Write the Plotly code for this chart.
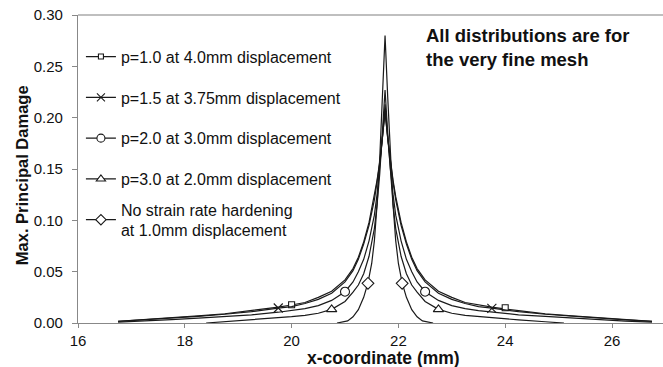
import plotly.graph_objects as go

# ---------------- data ----------------
x_wide = [16.75, 17.25, 17.75, 18.25, 18.75, 19.25, 19.75, 20.0, 20.25, 20.5, 20.75,
          21.0, 21.15, 21.25, 21.35, 21.45, 21.55, 21.6, 21.65, 21.7, 21.75,
          21.8, 21.85, 21.9, 21.95, 22.05, 22.15, 22.25, 22.35, 22.5, 22.75,
          23.0, 23.25, 23.5, 23.75, 24.25, 24.75, 25.25, 25.75, 26.25, 26.75]

p10_y = [0.0017, 0.0033, 0.005, 0.007, 0.009, 0.012, 0.0155, 0.0175, 0.020, 0.025, 0.031,
         0.042, 0.053, 0.064, 0.079, 0.098, 0.123, 0.139, 0.157, 0.180, 0.205,
         0.180, 0.157, 0.139, 0.123, 0.098, 0.079, 0.064, 0.053, 0.042, 0.031,
         0.025, 0.020, 0.0175, 0.0155, 0.012, 0.009, 0.007, 0.005, 0.0033, 0.0017]

p15_y = [0.0015, 0.003, 0.0045, 0.0065, 0.0085, 0.011, 0.0145, 0.016, 0.019, 0.023, 0.029,
         0.040, 0.051, 0.062, 0.077, 0.095, 0.120, 0.137, 0.155, 0.180, 0.207,
         0.180, 0.155, 0.137, 0.120, 0.095, 0.077, 0.062, 0.051, 0.040, 0.029,
         0.023, 0.019, 0.016, 0.0145, 0.011, 0.0085, 0.0065, 0.0045, 0.003, 0.0015]

p20_y = [0.0008, 0.0018, 0.0032, 0.0048, 0.0065, 0.008, 0.0105, 0.012, 0.014, 0.017, 0.022,
         0.0305, 0.040, 0.050, 0.062, 0.080, 0.105, 0.125, 0.150, 0.180, 0.213,
         0.180, 0.150, 0.125, 0.105, 0.080, 0.062, 0.050, 0.040, 0.0305, 0.022,
         0.017, 0.014, 0.012, 0.0105, 0.008, 0.0065, 0.0048, 0.0032, 0.0018, 0.0008]

p30_x = [18.4, 18.75, 19.25, 19.75, 20.0, 20.25, 20.5, 20.75,
         21.0, 21.15, 21.25, 21.35, 21.45, 21.55, 21.6, 21.65, 21.7, 21.75,
         21.8, 21.85, 21.9, 21.95, 22.05, 22.15, 22.25, 22.35, 22.5, 22.75,
         23.0, 23.25, 23.5, 23.75, 24.25, 24.75, 25.1]
p30_y = [0.0, 0.0012, 0.003, 0.005, 0.0062, 0.0075, 0.0095, 0.0133,
         0.021, 0.030, 0.037, 0.048, 0.065, 0.092, 0.115, 0.145, 0.185, 0.227,
         0.185, 0.145, 0.115, 0.092, 0.065, 0.048, 0.037, 0.030, 0.021, 0.0133,
         0.0095, 0.0075, 0.0062, 0.005, 0.003, 0.0012, 0.0]

norate_x = [20.85, 21.05, 21.15, 21.25, 21.35, 21.43, 21.5, 21.55, 21.6, 21.65, 21.7, 21.75,
            21.8, 21.85, 21.9, 21.95, 22.0, 22.07, 22.15, 22.25, 22.35, 22.45, 22.65]
norate_y = [0.0, 0.002, 0.006, 0.013, 0.025, 0.039, 0.058, 0.080, 0.115, 0.160, 0.220, 0.280,
            0.220, 0.160, 0.115, 0.080, 0.058, 0.039, 0.025, 0.013, 0.006, 0.002, 0.0]

# marker positions (sparse markers, as in the reference)
p10_mx, p10_my = [20.0, 24.0], [0.0178, 0.0149]
p15_mx, p15_my = [19.75, 23.75], [0.0146, 0.0143]
p20_mx, p20_my = [21.0, 22.5], [0.0305, 0.0305]
p30_mx, p30_my = [20.75, 22.75], [0.0133, 0.0133]
norate_mx, norate_my = [21.43, 22.07], [0.0387, 0.0387]

labels = ["p=1.0 at 4.0mm displacement",
          "p=1.5 at 3.75mm displacement",
          "p=2.0 at 3.0mm displacement",
          "p=3.0 at 2.0mm displacement",
          "No strain rate hardening<br>at 1.0mm displacement"]

x_ticks = [16, 18, 20, 22, 24, 26]
y_ticks = [0.00, 0.05, 0.10, 0.15, 0.20, 0.25, 0.30]

# ---------------- styling ----------------
FONT = "Liberation Sans, Arial, sans-serif"
LINE_COLOR = "#1a1a1a"

series = [
    (x_wide, p10_y, p10_mx, p10_my, "square", 6),
    (x_wide, p15_y, p15_mx, p15_my, "x-thin", 9),
    (x_wide, p20_y, p20_mx, p20_my, "circle", 9),
    (p30_x, p30_y, p30_mx, p30_my, "triangle-up", 9),
    (norate_x, norate_y, norate_mx, norate_my, "diamond", 9),
]

fig = go.Figure()
for i, (xs, ys, mx, my, sym, ms) in enumerate(series):
    fill = LINE_COLOR if sym == "x-thin" else "white"
    fig.add_trace(go.Scatter(x=xs, y=ys, mode="lines",
                             line=dict(color=LINE_COLOR, width=1.2),
                             showlegend=False, hoverinfo="skip"))
    fig.add_trace(go.Scatter(x=mx, y=my, mode="markers",
                             marker=dict(symbol=sym, size=ms, color=fill,
                                         line=dict(color=LINE_COLOR, width=1.1)),
                             showlegend=False))
    fig.add_trace(go.Scatter(x=[None], y=[None], mode="lines+markers", name=labels[i],
                             legendgroup=f"g{i}",
                             legend="legend2" if i == 4 else "legend",
                             line=dict(color=LINE_COLOR, width=1.2),
                             marker=dict(symbol=sym, size=ms - 1, color=fill,
                                         line=dict(color=LINE_COLOR, width=1.1))))

fig.add_annotation(x=22.47, y=0.292, xref="x", yref="y", xanchor="left", yanchor="top",
                   align="left", showarrow=False,
                   text="<b>All distributions are for<br>the very fine mesh</b>",
                   font=dict(family=FONT, size=18.5, color="#111"))

# axis titles
fig.add_annotation(x=21.72, y=-0.1136, xref="x", yref="paper", xanchor="center",
                   yanchor="middle", showarrow=False,
                   text="<b>x-coordinate (mm)</b>",
                   font=dict(family=FONT, size=17.5, color="#111"))
fig.add_annotation(x=-0.0957, y=0.48, xref="paper", yref="paper", xanchor="center",
                   yanchor="middle", showarrow=False, textangle=-90,
                   text="<b>Max. Principal Damage</b>",
                   font=dict(family=FONT, size=16.5, color="#111"))

# top border line of plot area
fig.add_shape(type="line", xref="paper", yref="paper", x0=0, x1=1, y0=1, y1=1,
              line=dict(color="#aaaaaa", width=1.3))

legend_common = dict(xanchor="left", yanchor="top",
                     font=dict(family=FONT, size=16, color="#111"),
                     bgcolor="rgba(0,0,0,0)", traceorder="grouped",
                     tracegroupgap=17, itemwidth=30)

fig.update_layout(
    width=663, height=367,
    margin=dict(l=78, r=0, t=15, b=44),
    paper_bgcolor="white", plot_bgcolor="white",
    font=dict(family=FONT, size=15, color="#111"),
    legend=dict(x=0.005, y=0.92, **legend_common),
    legend2=dict(x=0.005, y=0.424, **legend_common),
    xaxis=dict(range=[16, 26.955], tickvals=x_ticks, ticktext=[str(v) for v in x_ticks],
               showgrid=False, zeroline=False, showline=True, linecolor="#888888",
               linewidth=1.2, ticks="outside", ticklen=4, tickcolor="#888888",
               tickfont=dict(size=15)),
    yaxis=dict(range=[0, 0.30], tickvals=y_ticks, tickformat=".2f",
               showgrid=False, zeroline=False, showline=True, linecolor="#888888",
               linewidth=1.2, ticks="outside", ticklen=5, tickcolor="#888888",
               tickfont=dict(size=15), ticklabelstandoff=6),
)

fig.write_html("out.html")
